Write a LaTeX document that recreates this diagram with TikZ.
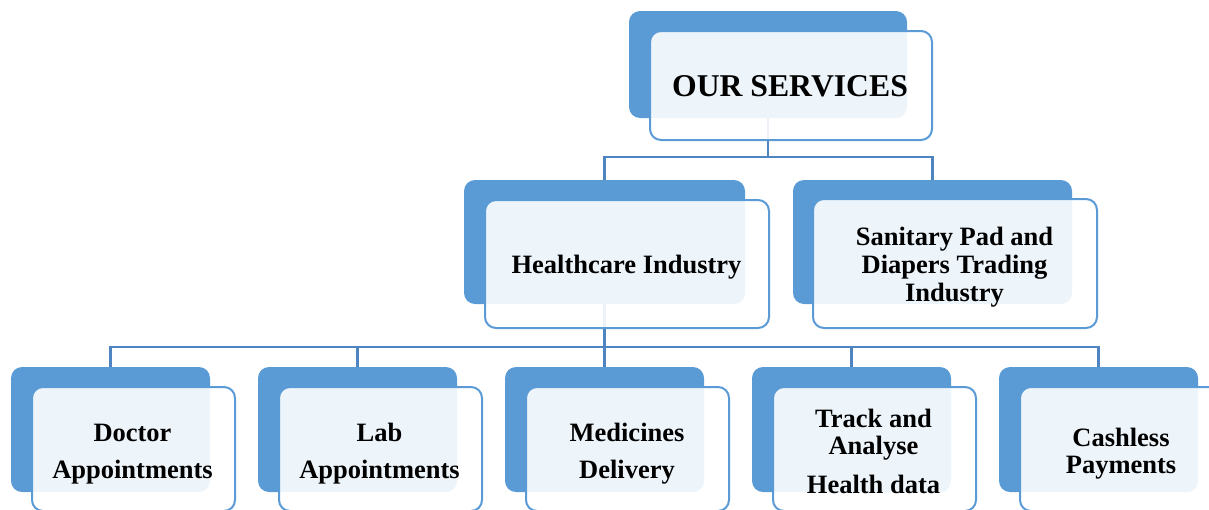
\documentclass[tikz,border=0pt]{standalone}
\usepackage{fontspec}
\setmainfont{Liberation Serif}
\definecolor{boxblue}{RGB}{91,155,213}
\definecolor{linkblue}{RGB}{78,132,192}
\begin{document}
\begin{tikzpicture}[x=1pt,y=-1pt,
  backbox/.style={draw=none,fill=boxblue,rounded corners=11pt,inner sep=0pt},
  frontbox/.style={draw=boxblue,line width=2pt,fill=white,fill opacity=0.9,text opacity=1,
     rounded corners=11pt,inner sep=0pt},
  lbl/.style={align=center,inner sep=0pt,font=\bfseries\fontsize{26.5}{37}\selectfont},
  link/.style={draw=linkblue,line width=2.2pt}]
\useasboundingbox (0,0) rectangle (1209,509);
\clip (0,0) rectangle (1209,509);
% back boxes
\node[backbox,minimum width=278pt,minimum height=107pt] (topB) at (768,64.5) {};
\node[backbox,minimum width=281pt,minimum height=124pt] (hcB) at (604.5,242) {};
\node[backbox,minimum width=279pt,minimum height=124pt] (spB) at (932.5,242) {};
\foreach \i/\n in {0/docB,1/labB,2/medB,3/trkB,4/cshB}{
  \node[backbox,minimum width=199pt,minimum height=125pt] (\n) at (110.5+247*\i,429.5) {};
}
% connectors
\coordinate (bus1) at (768,157);
\coordinate (bus2) at (604.5,347);
\draw[link] (topB.south) -- (bus1);
\draw[link] (bus1) -| (hcB.north);
\draw[link] (bus1) -| (spB.north);
\draw[link] (hcB.south) -- (bus2);
\foreach \n in {docB,labB,medB,trkB,cshB}{
  \draw[link] (bus2) -| (\n.north);
}
% front boxes
\node[frontbox,minimum width=282pt,minimum height=109pt] (topF) at (791,85.5) {};
\node[frontbox,minimum width=284pt,minimum height=128pt] (hcF) at (627,264) {};
\node[frontbox,minimum width=284pt,minimum height=129pt] (spF) at (955,263.5) {};
\foreach \i/\n in {0/docF,1/labF,2/medF,3/trkF,4/cshF}{
  \node[frontbox,minimum width=203pt,minimum height=124pt] (\n) at (133.5+247*\i,449) {};
}
% texts
\node[lbl,font=\bfseries\fontsize{31.7}{34}\selectfont] (topT) at (790,86.5) {OUR SERVICES};
\node[lbl] (hcT) at (626.5,267) {Healthcare Industry};
\node[lbl,font=\bfseries\fontsize{26.5}{28}\selectfont] (spT) at (954.5,267) {Sanitary Pad and\\Diapers Trading\\Industry};
\node[lbl] (docT) at (132.5,454) {Doctor\\Appointments};
\node[lbl] (labT) at (379.5,454) {Lab\\Appointments};
\node[lbl] (medT) at (627,454) {Medicines\\Delivery};
\node[lbl,font=\bfseries\fontsize{26.5}{27}\selectfont] (trkT) at (873.5,451.5) {Track and\\Analyse\\[12pt]Health data};
\node[lbl,font=\bfseries\fontsize{26.5}{27.5}\selectfont] (cshT) at (1121,453.5) {Cashless\\Payments};
\end{tikzpicture}
\end{document}
